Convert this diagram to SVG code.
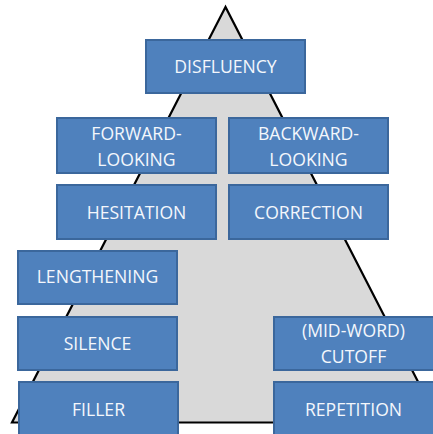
<svg xmlns="http://www.w3.org/2000/svg" width="433" height="434" viewBox="0 0 433 434">
<style>
.box{fill:#4f81bd;stroke:#3b679c;stroke-width:2}
.t{font-family:"Open Sans","Noto Sans",sans-serif;font-size:17.6px;fill:#f4f7fc;text-anchor:middle}
</style>
<rect x="0" y="0" width="433" height="434" fill="#ffffff"/>
<g id="pyramid">
<polygon points="225.5,7 12,422.5 439,422.5" fill="#d9d9d9" stroke="#000000" stroke-width="2.2" stroke-linejoin="miter"/>
</g>
<g id="connectors"></g>
<g id="disfluency"><rect class="box" x="146" y="40" width="159" height="53"/><text class="t" x="225.5" y="73">DISFLUENCY</text></g>
<g id="forward-looking"><rect class="box" x="57" y="118" width="159" height="55"/><text class="t" x="136.5" y="140">FORWARD-</text><text class="t" x="136.5" y="165.5">LOOKING</text></g>
<g id="backward-looking"><rect class="box" x="229" y="118" width="159" height="55"/><text class="t" x="308.5" y="140">BACKWARD-</text><text class="t" x="308.5" y="165.5">LOOKING</text></g>
<g id="hesitation"><rect class="box" x="57" y="185" width="159" height="54"/><text class="t" x="136.5" y="218.5">HESITATION</text></g>
<g id="correction"><rect class="box" x="229" y="185" width="159" height="54"/><text class="t" x="308.5" y="218.5">CORRECTION</text></g>
<g id="lengthening"><rect class="box" x="18" y="251" width="159" height="53"/><text class="t" x="97.5" y="283">LENGTHENING</text></g>
<g id="silence"><rect class="box" x="18" y="317" width="159" height="53"/><text class="t" x="97.5" y="349.5">SILENCE</text></g>
<g id="filler"><rect class="box" x="19" y="382" width="159" height="60"/><text class="t" x="98.5" y="415.5">FILLER</text></g>
<g id="cutoff"><rect class="box" x="274" y="317" width="160" height="53"/><text class="t" x="353.5" y="336.5">(MID-WORD)</text><text class="t" x="353.5" y="362.5">CUTOFF</text></g>
<g id="repetition"><rect class="box" x="274" y="382" width="160" height="60"/><text class="t" x="353.5" y="415.5">REPETITION</text></g>
</svg>
